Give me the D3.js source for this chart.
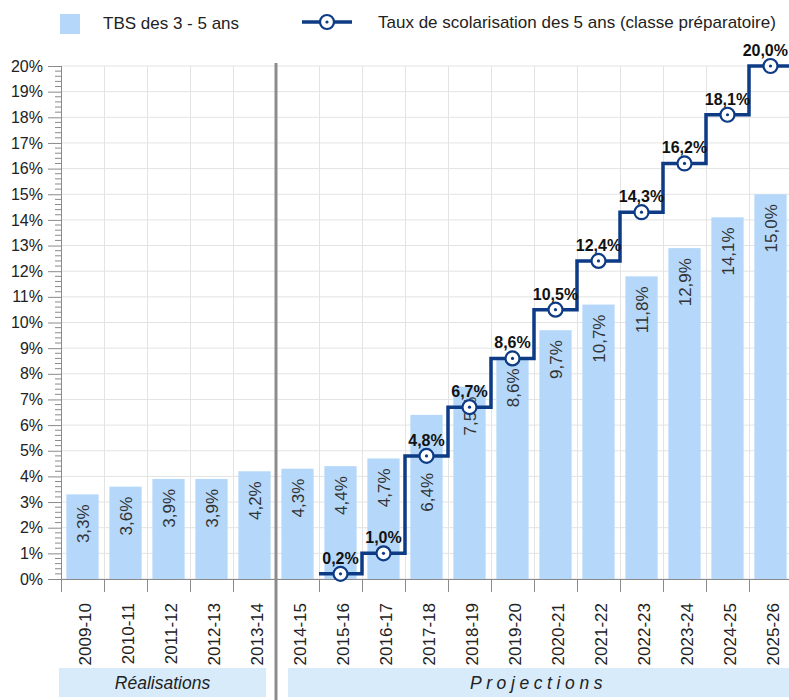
<!DOCTYPE html>
<html><head><meta charset="utf-8">
<script src="https://cdn.jsdelivr.net/npm/d3@7/dist/d3.min.js"></script>
<style>
body{margin:0;background:#fff;}
text{font-family:"Liberation Sans",Arial,sans-serif;}
</style></head>
<body><svg id="c" width="789" height="700"></svg>
<script>
const categories = ["2009-10","2010-11","2011-12","2012-13","2013-14","2014-15","2015-16","2016-17","2017-18","2018-19","2019-20","2020-21","2021-22","2022-23","2023-24","2024-25","2025-26"];
const tbsValues = [3.3,3.6,3.9,3.9,4.2,4.3,4.4,4.7,6.4,7.5,8.6,9.7,10.7,11.8,12.9,14.1,15.0];
const tauxValues = [null,null,null,null,null,null,0.2,1.0,4.8,6.7,8.6,10.5,12.4,14.3,16.2,18.1,20.0];
const yTicks = [0,1,2,3,4,5,6,7,8,9,10,11,12,13,14,15,16,17,18,19,20];
const periods = [{label:"Réalisations", from:"2009-10", to:"2013-14"},{label:"Projections", from:"2014-15", to:"2025-26"}];
const legendLabels = ["TBS des 3 - 5 ans","Taux de scolarisation des 5 ans (classe préparatoire)"];

const fmt = v => v.toFixed(1).replace(".", ",") + "%";
const svg = d3.select("#c");
const W = 789;
const barColor = "#b5d8fa", lineColor = "#0d3b85", gridColor = "#e3e3e3", axisColor = "#8a8a8a";

const x = d3.scaleBand().domain(categories).range([61, 792]).paddingInner(0.25).paddingOuter(0.125);
const step = x.step();
const bl = c => x(c) - x.step()*x.paddingInner()/2; // band left boundary
const y = d3.scaleLinear().domain([0,20]).range([579,66]);

// grid
const g = svg.append("g");
g.selectAll("line.h").data(yTicks).join("line")
  .attr("x1",61).attr("x2",W).attr("y1",d=>y(d)).attr("y2",d=>y(d))
  .attr("stroke",gridColor).attr("stroke-width",1);
g.selectAll("line.v").data(categories.slice(1)).join("line")
  .attr("x1",d=>Math.round(bl(d))+0.5).attr("x2",d=>Math.round(bl(d))+0.5).attr("y1",y(20)).attr("y2",y(0))
  .attr("stroke",gridColor).attr("stroke-width",1);

// bars
svg.selectAll("rect.bar").data(categories).join("rect")
  .attr("x",d=>x(d)).attr("width",x.bandwidth())
  .attr("y",(d,i)=>y(tbsValues[i])).attr("height",(d,i)=>y(0)-y(tbsValues[i]))
  .attr("fill",barColor);

// y axis
const yAxis = d3.axisLeft(y).tickValues(yTicks).tickFormat(d=>d+"%").tickSize(13).tickPadding(5);
const ya = svg.append("g").attr("transform","translate(61,0)").call(yAxis);
ya.select(".domain").attr("stroke",axisColor).attr("d","M0.5,"+y(20)+"V"+(y(0)+13));
ya.selectAll(".tick line").attr("stroke",axisColor);
ya.selectAll(".tick text").attr("font-size",16).attr("fill","#222").attr("font-family","Liberation Sans, Arial, sans-serif");
const minor = d3.range(0,100).map(i=>i*0.2).filter(v=>Math.abs(v-Math.round(v))>1e-6);
ya.selectAll("line.minor").data(minor).join("line")
  .attr("x1",-6).attr("x2",0).attr("y1",d=>y(d)).attr("y2",d=>y(d)).attr("stroke",axisColor);

// x axis
const xa = svg.append("g").attr("transform","translate(0,"+y(0)+")");
xa.append("line").attr("x1",61).attr("x2",W).attr("y1",0.5).attr("y2",0.5).attr("stroke",axisColor);
xa.selectAll("line.t").data(categories.slice(1)).join("line")
  .attr("x1",d=>Math.round(bl(d))+0.5).attr("x2",d=>Math.round(bl(d))+0.5).attr("y1",0).attr("y2",13).attr("stroke",axisColor);
xa.selectAll("text").data(categories).join("text")
  .attr("transform",d=>"translate("+(x(d)+x.bandwidth()/2+8.5)+",24) rotate(-90)")
  .attr("text-anchor","end").attr("font-size",17).attr("fill","#222").text(d=>d);

// separator
const sepX = Math.round(bl("2014-15"));
svg.append("line").attr("x1",sepX).attr("x2",sepX).attr("y1",63).attr("y2",700)
  .attr("stroke","#8c8c8c").attr("stroke-width",3);

// period boxes
periods.forEach((p,i)=>{
  const x0 = i===0 ? bl(p.from)-2 : bl(p.from)+12;
  const x1 = i===0 ? bl(p.to)+step-10 : W;
  svg.append("rect").attr("x",x0).attr("y",668).attr("width",x1-x0).attr("height",29).attr("fill","#d7ebfb");
  svg.append("text").attr("x",(x0+x1)/2).attr("y",689).attr("text-anchor","middle")
    .attr("font-size",17.5).attr("font-style","italic").attr("fill","#222")
    .attr("letter-spacing", i===1 ? "4.6px" : "0px").text(p.label);
});

// bar labels
const cx = c => x(c)+x.bandwidth()/2;
const lbl = svg.append("g");
categories.forEach((c,i)=>{
  const v = tbsValues[i];
  const t = lbl.append("text").attr("font-size",17).attr("fill","#333").attr("text-anchor","end").text(fmt(v));
  const len = t.node().getComputedTextLength();
  let end = y(v)+10;
  const m = tauxValues[i];
  if (m!=null){
    const my = y(m);
    if (my > end + len/2 && my < end + len + 8) end = my + 17;
  }
  t.attr("transform","translate("+(cx(c)+6)+","+end+") rotate(-90)");
});

// step line
const pts = [];
categories.forEach((c,i)=>{ if(tauxValues[i]!=null) pts.push([cx(c),tauxValues[i],c]); });
const linePts = [[bl(pts[0][2]), pts[0][1]]].concat(pts.map(p=>[p[0],p[1]])).concat([[bl(pts[pts.length-1][2])+step, pts[pts.length-1][1]]]);
svg.append("path").datum(linePts)
  .attr("d", d3.line().x(d=>d[0]).y(d=>y(d[1])).curve(d3.curveStep))
  .attr("fill","none").attr("stroke",lineColor).attr("stroke-width",3.5);
const mk = svg.selectAll("g.mk").data(pts).join("g").attr("transform",d=>"translate("+d[0]+","+y(d[1])+")");
mk.append("circle").attr("r",7).attr("fill","#fff").attr("stroke",lineColor).attr("stroke-width",2.2);
mk.append("circle").attr("r",1.6).attr("fill",lineColor);
svg.selectAll("text.pl").data(pts).join("text")
  .attr("y",d=>y(d[1])-10).attr("text-anchor","middle")
  .attr("font-size",16).attr("font-weight","bold").attr("fill","#111").text(d=>fmt(d[1]))
  .each(function(d){
    const w = this.getComputedTextLength();
    const px = Math.min(d[0], W - 1 - w/2);
    d3.select(this).attr("x", px);
  });

// legend
svg.append("rect").attr("x",60).attr("y",14).attr("width",20).attr("height",20).attr("fill",barColor);
svg.append("text").attr("x",103).attr("y",29).attr("font-size",17).attr("fill","#222").text(legendLabels[0]);
svg.append("line").attr("x1",302).attr("x2",352).attr("y1",22).attr("y2",22).attr("stroke",lineColor).attr("stroke-width",3.5);
svg.append("circle").attr("cx",327).attr("cy",22).attr("r",7).attr("fill","#fff").attr("stroke",lineColor).attr("stroke-width",2.2);
svg.append("circle").attr("cx",327).attr("cy",22).attr("r",1.6).attr("fill",lineColor);
svg.append("text").attr("x",378).attr("y",28).attr("font-size",17).attr("fill","#222").text(legendLabels[1]);
</script></body></html>
